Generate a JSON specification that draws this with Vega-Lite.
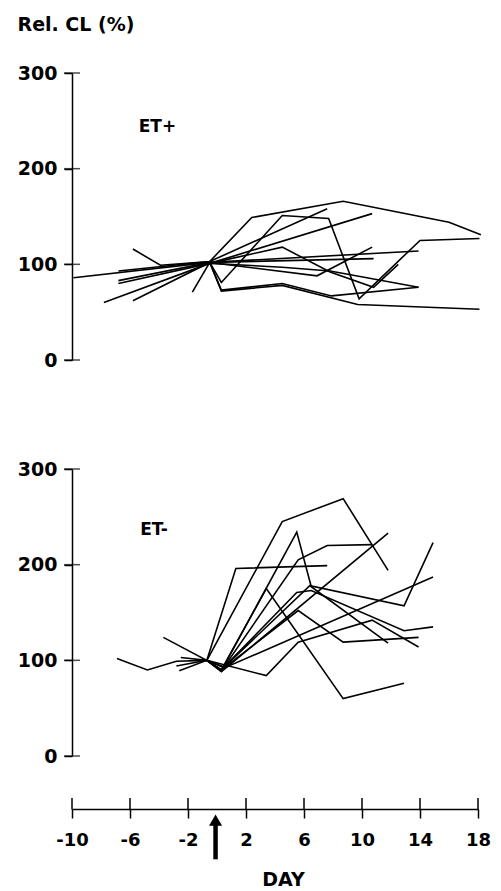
{
  "$schema": "https://vega.github.io/schema/vega-lite/v6.json",
  "padding": {"left": 17, "top": 15, "right": 5, "bottom": 0},
  "background": "white",
  "datasets": {
    "etpos": [
      {"id": "T1", "day": -9.9, "v": 86}, {"id": "T1", "day": -0.5, "v": 102}, {"id": "T1", "day": 13.9, "v": 114},
      {"id": "T2", "day": -6.8, "v": 93}, {"id": "T2", "day": -0.5, "v": 103}, {"id": "T2", "day": 2.4, "v": 149}, {"id": "T2", "day": 8.7, "v": 166}, {"id": "T2", "day": 16, "v": 144}, {"id": "T2", "day": 18.2, "v": 131},
      {"id": "T3", "day": -6.8, "v": 83}, {"id": "T3", "day": -0.5, "v": 102}, {"id": "T3", "day": 0.3, "v": 81}, {"id": "T3", "day": 4.5, "v": 151}, {"id": "T3", "day": 7.7, "v": 148}, {"id": "T3", "day": 9.8, "v": 64}, {"id": "T3", "day": 14, "v": 125}, {"id": "T3", "day": 18.1, "v": 127},
      {"id": "T4", "day": -5.8, "v": 116}, {"id": "T4", "day": -3.9, "v": 99}, {"id": "T4", "day": -0.5, "v": 103}, {"id": "T4", "day": 7.6, "v": 158},
      {"id": "T5", "day": -6.8, "v": 80}, {"id": "T5", "day": -0.5, "v": 101}, {"id": "T5", "day": 10.7, "v": 153},
      {"id": "T6", "day": -7.8, "v": 60}, {"id": "T6", "day": -0.5, "v": 101}, {"id": "T6", "day": 4.5, "v": 118}, {"id": "T6", "day": 7.8, "v": 92}, {"id": "T6", "day": 10.8, "v": 76}, {"id": "T6", "day": 12.5, "v": 100},
      {"id": "T7", "day": -5.8, "v": 62}, {"id": "T7", "day": -0.5, "v": 102}, {"id": "T7", "day": 10.8, "v": 106},
      {"id": "T8", "day": -1.7, "v": 71}, {"id": "T8", "day": -0.5, "v": 102}, {"id": "T8", "day": 0.3, "v": 72}, {"id": "T8", "day": 4.5, "v": 78}, {"id": "T8", "day": 9.7, "v": 58}, {"id": "T8", "day": 18.1, "v": 53},
      {"id": "T9", "day": -0.5, "v": 102}, {"id": "T9", "day": 0.3, "v": 73}, {"id": "T9", "day": 4.5, "v": 80}, {"id": "T9", "day": 7.9, "v": 67}, {"id": "T9", "day": 13.9, "v": 76},
      {"id": "T10", "day": -0.5, "v": 101}, {"id": "T10", "day": 4.5, "v": 97}, {"id": "T10", "day": 7.8, "v": 93}, {"id": "T10", "day": 13.9, "v": 76},
      {"id": "T11", "day": -0.5, "v": 102}, {"id": "T11", "day": 6.9, "v": 88}, {"id": "T11", "day": 10.7, "v": 118}
    ],
    "etneg": [
      {"id": "B1", "day": -6.9, "v": 102}, {"id": "B1", "day": -4.8, "v": 90}, {"id": "B1", "day": -2.8, "v": 99}, {"id": "B1", "day": -0.7, "v": 100}, {"id": "B1", "day": 3.4, "v": 84}, {"id": "B1", "day": 5.6, "v": 119}, {"id": "B1", "day": 10.7, "v": 142}, {"id": "B1", "day": 13.9, "v": 114},
      {"id": "B2", "day": -3.7, "v": 124}, {"id": "B2", "day": -0.7, "v": 100}, {"id": "B2", "day": 4.5, "v": 245}, {"id": "B2", "day": 8.7, "v": 269}, {"id": "B2", "day": 11.8, "v": 194},
      {"id": "B3", "day": -2.8, "v": 94}, {"id": "B3", "day": -0.7, "v": 100}, {"id": "B3", "day": 1.3, "v": 196}, {"id": "B3", "day": 7.6, "v": 199},
      {"id": "B4", "day": -2.6, "v": 89}, {"id": "B4", "day": -0.7, "v": 100}, {"id": "B4", "day": 0.3, "v": 89}, {"id": "B4", "day": 5.5, "v": 234}, {"id": "B4", "day": 6.5, "v": 177}, {"id": "B4", "day": 11.8, "v": 118},
      {"id": "B5", "day": -2.5, "v": 103}, {"id": "B5", "day": -0.7, "v": 100}, {"id": "B5", "day": 0.3, "v": 88}, {"id": "B5", "day": 11.8, "v": 233},
      {"id": "B6", "day": -0.7, "v": 100}, {"id": "B6", "day": 0.3, "v": 90}, {"id": "B6", "day": 3.4, "v": 175}, {"id": "B6", "day": 8.7, "v": 60}, {"id": "B6", "day": 12.9, "v": 76},
      {"id": "B7", "day": -0.7, "v": 100}, {"id": "B7", "day": 0.3, "v": 89}, {"id": "B7", "day": 5.6, "v": 205}, {"id": "B7", "day": 7.6, "v": 220}, {"id": "B7", "day": 10.7, "v": 221},
      {"id": "B8", "day": -0.7, "v": 100}, {"id": "B8", "day": 0.3, "v": 90}, {"id": "B8", "day": 5.5, "v": 171}, {"id": "B8", "day": 6.5, "v": 173}, {"id": "B8", "day": 12.9, "v": 131}, {"id": "B8", "day": 14.9, "v": 135},
      {"id": "B9", "day": -0.7, "v": 100}, {"id": "B9", "day": 0.5, "v": 93}, {"id": "B9", "day": 6.4, "v": 178}, {"id": "B9", "day": 12.9, "v": 157}, {"id": "B9", "day": 14.9, "v": 223},
      {"id": "B10", "day": -0.7, "v": 100}, {"id": "B10", "day": 0.5, "v": 92}, {"id": "B10", "day": 14.9, "v": 187},
      {"id": "B11", "day": -0.7, "v": 100}, {"id": "B11", "day": 0.3, "v": 90}, {"id": "B11", "day": 5.6, "v": 152}, {"id": "B11", "day": 8.7, "v": 119}, {"id": "B11", "day": 13.9, "v": 124}
    ],
    "yticks": [{"v": 0}, {"v": 100}, {"v": 200}, {"v": 300}],
    "xticks": [{"day": -10}, {"day": -6}, {"day": -2}, {"day": 2}, {"day": 6}, {"day": 10}, {"day": 14}, {"day": 18}]
  },
  "bounds": "flush",
  "spacing": 109,
  "vconcat": [
    {
      "width": 406, "height": 287,
      "layer": [
        {
          "data": {"name": "etpos"},
          "mark": {"type": "line", "color": "black", "strokeWidth": 1.6, "clip": false},
          "encoding": {
            "x": {"field": "day", "type": "quantitative", "scale": {"domain": [-10, 18], "nice": false}, "axis": null},
            "y": {"field": "v", "type": "quantitative", "scale": {"domain": [0, 300], "nice": false},
                  "axis": {"values": [0, 100, 200, 300], "title": "Rel. CL (%)", "titleAngle": 0, "titleAlign": "left", "titleBaseline": "top", "titleX": -55, "titleY": -58, "titleFontSize": 19, "titleFontWeight": "bold"}},
            "detail": {"field": "id"}
          }
        },
        {
          "data": {"name": "yticks"},
          "mark": {"type": "tick", "orient": "horizontal", "color": "black", "size": 16, "thickness": 1.5},
          "encoding": {"x": {"datum": -10}, "y": {"field": "v", "type": "quantitative"}}
        },
        {
          "data": {"values": [{}]},
          "mark": {"type": "text", "text": "ET+", "align": "left", "baseline": "middle", "fontSize": 17, "fontWeight": "bold", "font": "DejaVu Sans"},
          "encoding": {"x": {"datum": -5.4}, "y": {"datum": 244}}
        }
      ]
    },
    {
      "width": 406, "height": 287,
      "layer": [
        {
          "data": {"name": "etneg"},
          "mark": {"type": "line", "color": "black", "strokeWidth": 1.6, "clip": false},
          "encoding": {
            "x": {"field": "day", "type": "quantitative", "scale": {"domain": [-10, 18], "nice": false},
                  "axis": {"values": [-10, -6, -2, 2, 6, 10, 14, 18], "offset": 53, "tickSize": 9, "labelExpr": "datum.value", "labelFlush": false, "labelPadding": 13, "labelFontSize": 18, "title": "DAY", "titleFontSize": 19, "titleX": 211, "titleY": 61, "titleBaseline": "top"}},
            "y": {"field": "v", "type": "quantitative", "scale": {"domain": [0, 300], "nice": false},
                  "axis": {"values": [0, 100, 200, 300], "title": null}},
            "detail": {"field": "id"}
          }
        },
        {
          "data": {"name": "yticks"},
          "mark": {"type": "tick", "orient": "horizontal", "color": "black", "size": 16, "thickness": 1.5},
          "encoding": {"x": {"datum": -10}, "y": {"field": "v", "type": "quantitative"}}
        },
        {
          "data": {"name": "xticks"},
          "mark": {"type": "rule", "color": "black", "strokeWidth": 1.5, "clip": false},
          "encoding": {"x": {"field": "day", "type": "quantitative"}, "y": {"datum": -44}, "y2": {"datum": -56}}
        },
        {
          "data": {"values": [{}]},
          "mark": {"type": "rule", "color": "black", "strokeWidth": 4.5, "clip": false},
          "encoding": {"x": {"datum": -0.1}, "y": {"datum": -70}, "y2": {"datum": -108}}
        },
        {
          "data": {"values": [{}]},
          "mark": {"type": "point", "shape": "triangle-up", "filled": true, "color": "black", "size": 170, "opacity": 1, "clip": false},
          "encoding": {"x": {"datum": -0.1}, "y": {"datum": -67}}
        },
        {
          "data": {"values": [{}]},
          "mark": {"type": "text", "text": "ET-", "align": "left", "baseline": "middle", "fontSize": 17, "fontWeight": "bold", "font": "DejaVu Sans"},
          "encoding": {"x": {"datum": -5.3}, "y": {"datum": 236}}
        }
      ]
    }
  ],
  "config": {
    "view": {"stroke": null},
    "font": "DejaVu Sans",
    "axis": {
      "grid": false,
      "domainColor": "black",
      "domainWidth": 1.5,
      "tickColor": "black",
      "tickWidth": 1.5,
      "tickSize": 8,
      "labelFont": "DejaVu Sans",
      "labelFontWeight": "bold",
      "labelFontSize": 19,
      "labelColor": "black",
      "labelPadding": 7,
      "titleFont": "DejaVu Sans",
      "titleFontWeight": "bold",
      "titleColor": "black"
    }
  }
}
